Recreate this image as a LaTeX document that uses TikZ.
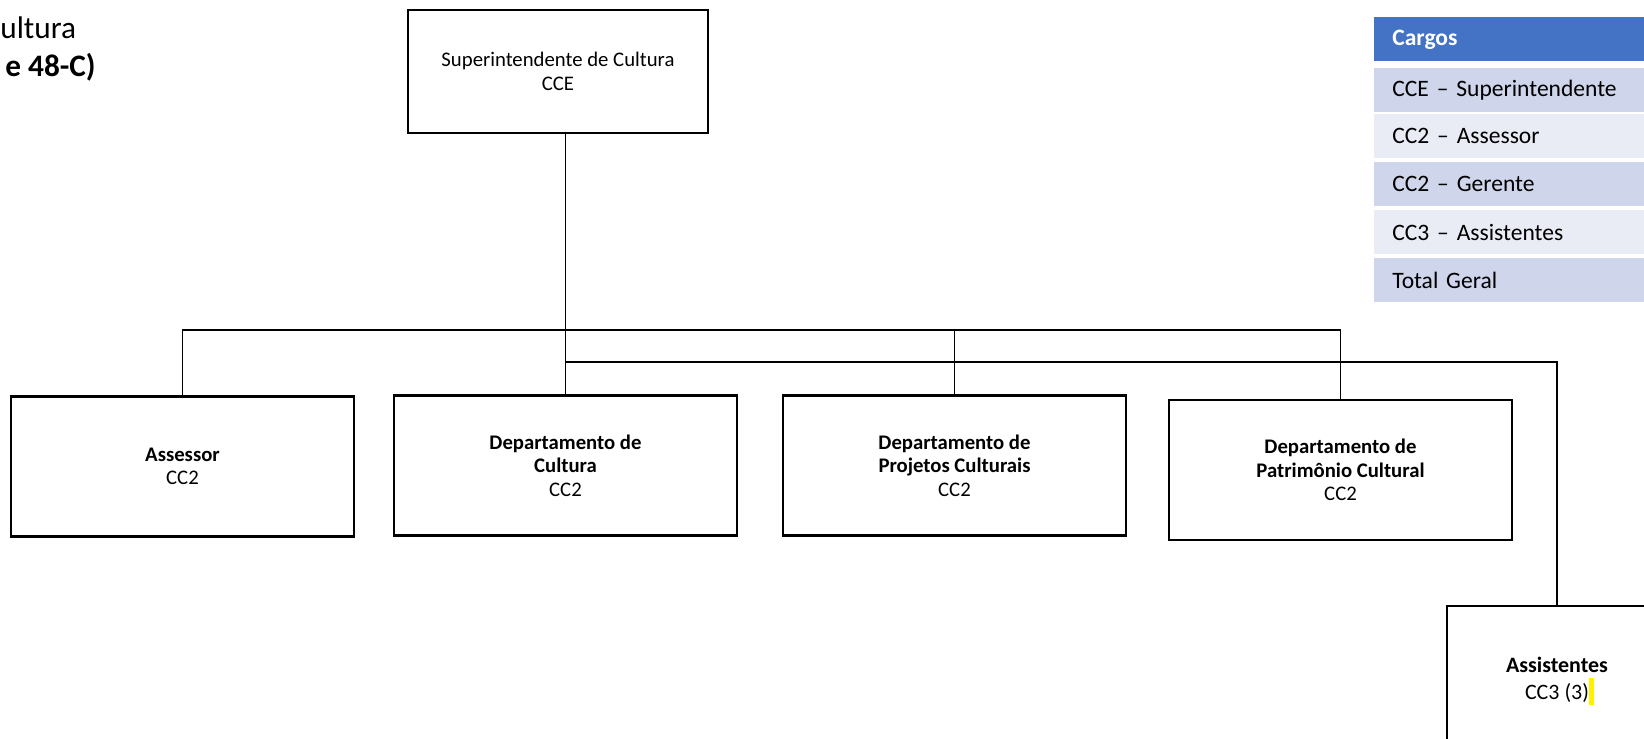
\documentclass[tikz,border=0pt]{standalone}
\usepackage{fontspec}
\setmainfont{Carlito}
\usepackage{tikz}
\usetikzlibrary{calc}
\definecolor{hdrblue}{HTML}{4472C4}
\definecolor{rowdark}{HTML}{CFD5EA}
\definecolor{rowlight}{HTML}{E9EBF5}

\begin{document}
\begin{tikzpicture}[x=0.02cm,y=-0.02cm,
	orgbox/.style={draw,line width=1.6pt,align=center,inner sep=0pt,minimum width=6.86cm,minimum height=2.8cm,font=\fontsize{11.8}{13.3}\selectfont},
	link/.style={line width=0.7pt},
	cargo/.style={anchor=north west,fill=rowdark,text width=5cm,inner xsep=0.36cm,inner ysep=0pt,minimum height=0.88cm,font=\fontsize{13.4}{15}\selectfont}]
		\useasboundingbox (0,0) rectangle (1644,739);
		%\draw (0,0) grid (1644,739);
		\node[anchor=base west,inner sep=0pt,font=\fontsize{17.8}{21.6}\selectfont] (tit1) at (0,39) {ultura};
		\node[anchor=base west,inner sep=0pt,font=\fontsize{17.8}{21.6}\selectfont\bfseries] (tit2) at (5,77) {e 48-C)};
		% caixas
		\node[orgbox,minimum width=6cm,minimum height=2.46cm] (sup) at (558,71.5) {Superintendente de Cultura\\CCE};
		\node[orgbox] (asr) at (182.5,466.5) {\textbf{Assessor}\\CC2};
		\node[orgbox] (cult) at (565.5,465.5) {\textbf{Departamento de}\\\textbf{Cultura}\\CC2};
		\node[orgbox] (proj) at (954.5,465.5) {\textbf{Departamento de}\\\textbf{Projetos Culturais}\\CC2};
		\node[orgbox] (pat) at (1340.5,470) {\textbf{Departamento de}\\\textbf{Patrimônio Cultural}\\CC2};
		\node[orgbox,minimum width=4.4cm,minimum height=3cm,font=\fontsize{12.5}{15.4}\selectfont] (ast) at (1557,681) {\textbf{Assistentes}\\CC3 (3)\rlap{\color{yellow}\rule[-3.4pt]{2.8pt}{15.4pt}}};
		% ligacoes
		\coordinate (bar) at (0,330);
		\coordinate (bar2) at (0,362);
		\draw[link] (cult.north |- sup.south) -- (cult.north);
		\draw[link] (asr.north) -- (asr.north |- bar) -- (pat.north |- bar) -- (pat.north);
		\draw[link] (proj.north) -- (proj.north |- bar);
		\draw[link] (cult.north |- bar2) -| (ast.north);
		% tabela
		\node[cargo,fill=hdrblue,text=white,font=\fontsize{13.4}{15}\selectfont\bfseries] (cab) at (1374,17) {Cargos};
		\node[cargo] (c1) at (1374,68) {CCE – Superintendente};
		\node[cargo,fill=rowlight] (c2) at (1374,114) {CC2 – Assessor};
		\node[cargo] (c3) at (1374,162) {CC2 – Gerente};
		\node[cargo,fill=rowlight] (c4) at (1374,210) {CC3 – Assistentes};
		\node[cargo] (c5) at (1374,258) {Total Geral};
	\end{tikzpicture}
\end{document}
